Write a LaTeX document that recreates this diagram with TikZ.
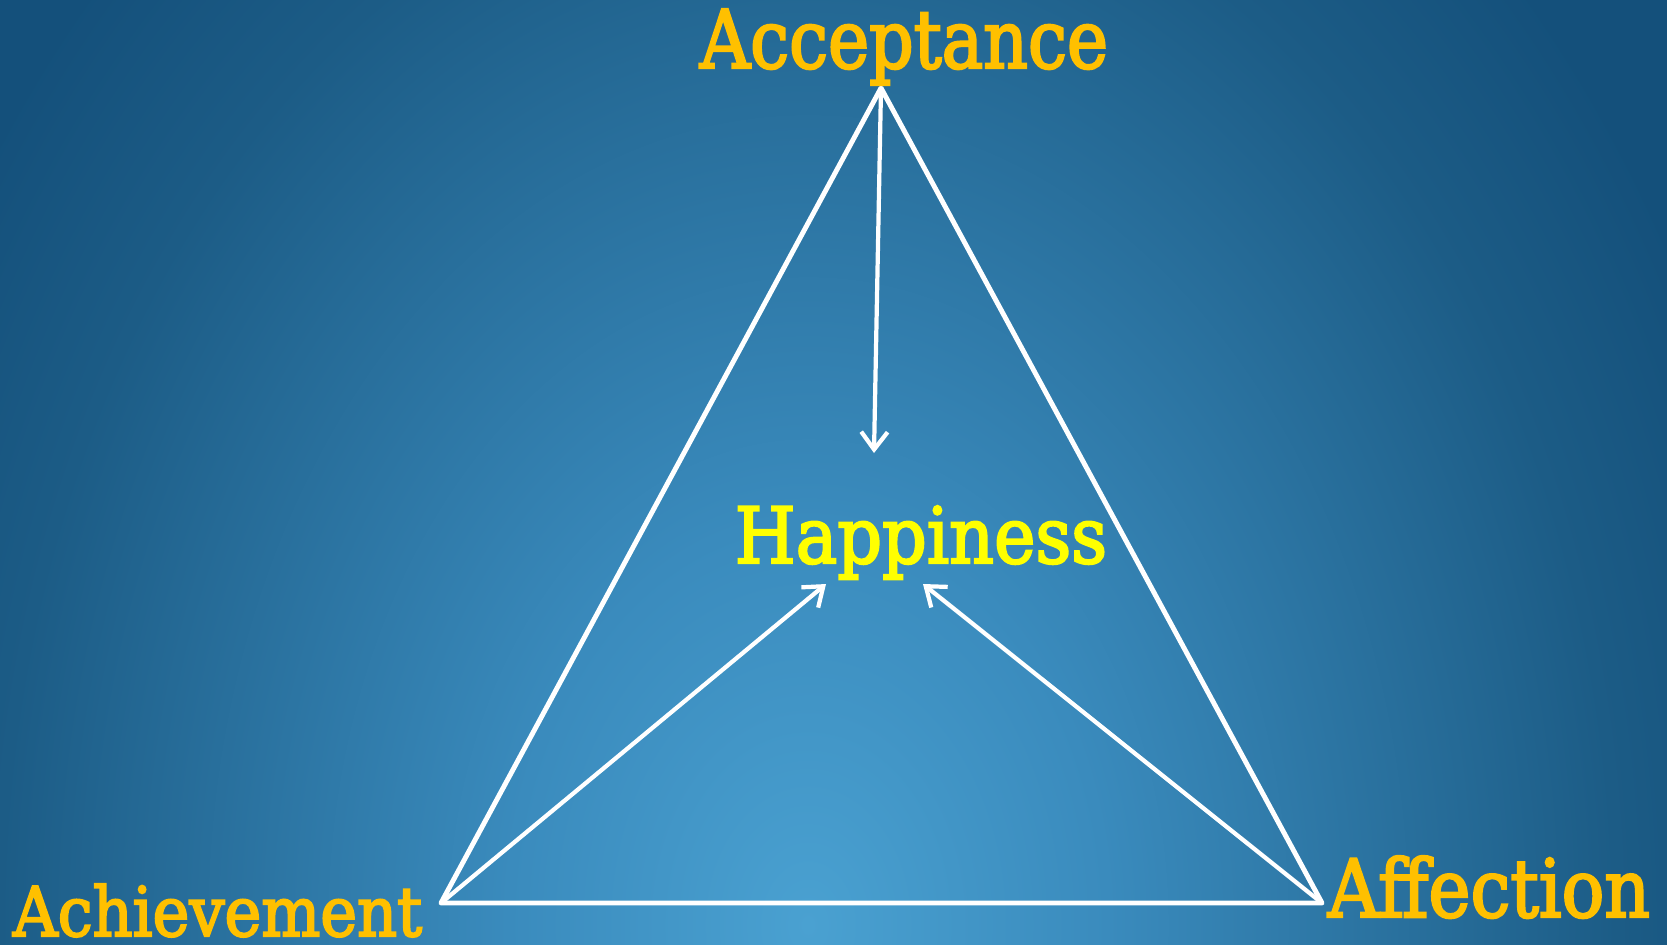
\documentclass[tikz,border=0pt]{standalone}
\usepackage{fontspec}
\setmainfont{DejaVu Serif}
\newfontface\lblfont{DejaVu Serif}[FakeBold=3]
\usetikzlibrary{arrows.meta}
\definecolor{cA}{HTML}{4AA1D1}
\definecolor{cB}{HTML}{3A8BBD}
\definecolor{cC}{HTML}{256A96}
\definecolor{cD}{HTML}{1C5C86}
\definecolor{cE}{HTML}{14507B}
\definecolor{gold}{HTML}{FFC000}
\definecolor{hyellow}{HTML}{FFFF00}
\pgfdeclareradialshading{bgshade}{\pgfpoint{0bp}{0bp}}{color(0bp)=(cA); color(3.75bp)=(cB); color(8.25bp)=(cC); color(10.1bp)=(cD); color(12.5bp)=(cE); color(50bp)=(cE)}
\tikzset{
  edge/.style={draw=white, line width=1.4pt, line join=round},
  arr/.style={draw=white, line width=1.2pt, -{Straight Barb[length=5pt,width=7.5pt]}},
  lbl/.style={inner sep=0pt, anchor=base, text=gold, font=\lblfont},
}
\begin{document}
\begin{tikzpicture}[x=0.01cm, y=-0.01cm]
\useasboundingbox (0,0) rectangle (1667,944);
\begin{scope}
\clip (0,0) rectangle (1667,944);
\shade[shading=bgshade] (808,925) ellipse (2000 and 2700);
\end{scope}
% vertices
\coordinate (T) at (881,88);
\coordinate (BL) at (441,903);
\coordinate (BR) at (1322,903);
\coordinate (hT) at (874,453);
\coordinate (hL) at (826,584);
\coordinate (hR) at (923,584);
\draw[edge] (T) -- (BR) -- (BL) -- cycle;
\draw[arr] (T) -- (hT);
\draw[arr] (BL) -- (hL);
\draw[arr] (BR) -- (hR);
% labels
\node[lbl] (acc) at (904,68) {\resizebox{4.08cm}{0.59cm}{Acceptance}};
\node[lbl, text=hyellow] (hap) at (921,563) {\resizebox{3.72cm}{0.57cm}{Happiness}};
\node[lbl] (ach) at (217.5,936) {\resizebox{4.09cm}{0.52cm}{Achievement}};
\node[lbl] (aff) at (1489,917) {\resizebox{3.22cm}{0.61cm}{Affection}};
\end{tikzpicture}
\end{document}
